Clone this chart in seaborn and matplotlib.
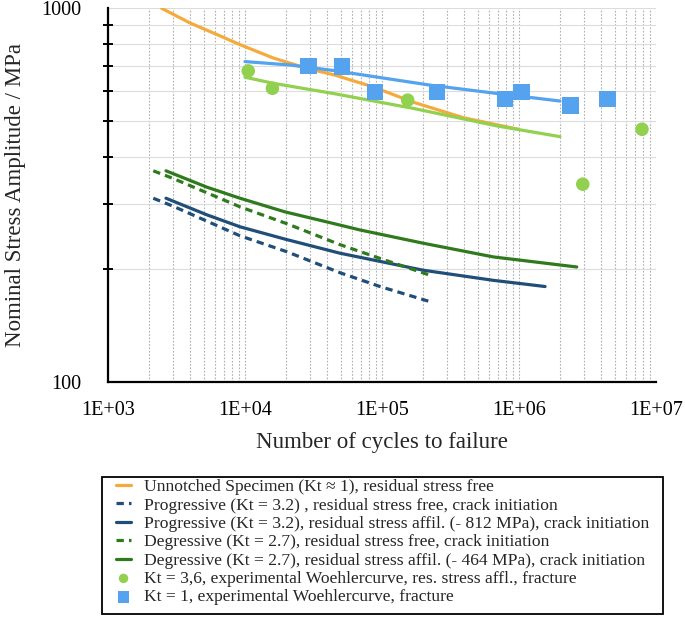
import numpy as np
import pandas as pd
import matplotlib
matplotlib.use("Agg")
import matplotlib.pyplot as plt
from matplotlib.patches import Rectangle
import seaborn as sns
from matplotlib.ticker import NullFormatter, LogLocator, FixedLocator

# ---------------- data ----------------
unnotched_n = [2466, 3968, 6209, 9194, 16090, 28180, 45000, 86400, 169000, 392000, 989000]
unnotched_s = [998, 912, 850, 798, 735, 690, 662, 615, 560, 509, 474]

kt1_fit_n = [10000, 21300, 45000, 224000, 687000, 1.99e6]
kt1_fit_s = [719, 704, 680, 622, 591, 564]

kt36_fit_n = [10000, 16090, 45000, 169000, 687000, 1.99e6]
kt36_fit_s = [653, 629, 590, 539, 484, 453]

prog_free_n = [2141, 2996, 9194, 20200, 49300, 96700, 224000]
prog_free_s = [310, 295, 246, 223, 196, 180, 164]

prog_res_n = [2650, 5253, 9194, 19600, 49300, 200000, 649000, 1.55e6]
prog_res_s = [310, 280, 260, 241, 221, 199, 187, 180]

degr_free_n = [2141, 2996, 9194, 20200, 49300, 96700, 224000]
degr_free_s = [367, 350, 294, 265, 233, 214, 193]

degr_res_n = [2650, 5253, 9194, 19600, 39500, 69100, 200000, 649000, 2.64e6]
degr_res_s = [367, 332, 310, 285, 268, 255, 235, 216, 203]

kt36_exp_n = [10560, 15850, 154000, 2.92e6, 7.9e6]
kt36_exp_s = [679, 610, 567, 338, 474]

kt1_exp_n = [29000, 51000, 89000, 253000, 790000, 1.04e6, 2.38e6, 4.41e6]
kt1_exp_s = [700, 697, 597, 597, 571, 597, 548, 571]

x_ticks = [1e3, 1e4, 1e5, 1e6, 1e7]
x_tick_labels = ["1E+03", "1E+04", "1E+05", "1E+06", "1E+07"]
y_ticks = [100, 1000]
y_tick_labels = ["100", "1000"]

labels = [
    "Unnotched Specimen (Kt \u2248 1), residual stress free",
    "Progressive (Kt = 3.2) , residual stress free, crack initiation",
    "Progressive (Kt = 3.2), residual stress affil. (- 812 MPa), crack initiation",
    "Degressive (Kt = 2.7), residual stress free, crack initiation",
    "Degressive (Kt = 2.7), residual stress affil. (- 464 MPa), crack initiation",
    "Kt = 3,6, experimental Woehlercurve, res. stress affl., fracture",
    "Kt = 1, experimental Woehlercurve, fracture",
]

# ---------------- style ----------------
sns.set_theme(style="white")
plt.rcParams["font.family"] = ["Liberation Serif", "DejaVu Serif"]

c_orange = "#F5AA3C"
c_lblue = "#55A2EE"
c_lgreen = "#92D050"
c_dblue = "#1F4E79"
c_dgreen = "#2F7A1C"

fig = plt.figure(figsize=(6.85, 6.18), dpi=100)
ax = fig.add_axes([108 / 685, 1 - 382 / 618, (656 - 108) / 685, (382 - 8) / 618])

lw = 2.3
dash = (0, (2.3, 1.6))

sns.lineplot(x=unnotched_n, y=unnotched_s, ax=ax, color=c_orange, lw=lw, label=labels[0])
sns.lineplot(x=prog_free_n, y=prog_free_s, ax=ax, color=c_dblue, lw=lw, label=labels[1])
ax.lines[-1].set_linestyle(dash)
sns.lineplot(x=prog_res_n, y=prog_res_s, ax=ax, color=c_dblue, lw=lw, label=labels[2])
sns.lineplot(x=degr_free_n, y=degr_free_s, ax=ax, color=c_dgreen, lw=lw, label=labels[3])
ax.lines[-1].set_linestyle(dash)
sns.lineplot(x=degr_res_n, y=degr_res_s, ax=ax, color=c_dgreen, lw=lw, label=labels[4])
sns.lineplot(x=kt1_fit_n, y=kt1_fit_s, ax=ax, color=c_lblue, lw=lw)
sns.lineplot(x=kt36_fit_n, y=kt36_fit_s, ax=ax, color=c_lgreen, lw=lw)
sns.scatterplot(x=kt36_exp_n, y=kt36_exp_s, ax=ax, color=c_lgreen, marker="o", s=95,
                edgecolor="none", label=labels[5], zorder=5)
sns.scatterplot(x=kt1_exp_n, y=kt1_exp_s, ax=ax, color=c_lblue, marker="s", s=140,
                edgecolor="none", label=labels[6], zorder=5)

ax.set_xscale("log")
ax.set_yscale("log")
ax.set_xlim(1e3, 1e7)
ax.set_ylim(100, 1000)

ax.xaxis.set_major_locator(FixedLocator(x_ticks))
ax.set_xticklabels(x_tick_labels)
ax.xaxis.set_minor_locator(LogLocator(base=10, subs=np.arange(2, 10)))
ax.xaxis.set_minor_formatter(NullFormatter())
ax.yaxis.set_major_locator(FixedLocator(y_ticks))
ax.set_yticklabels(y_tick_labels)
ax.yaxis.set_minor_locator(LogLocator(base=10, subs=np.arange(2, 10)))
ax.yaxis.set_minor_formatter(NullFormatter())

ax.grid(which="both", axis="y", color="#dcdcdc", ls="-", lw=0.8)
ax.grid(which="both", axis="x", color="#b0b0b0", ls=(0, (1.5, 1.5)), lw=0.8)
ax.set_axisbelow(True)

for s in ["top", "right"]:
    ax.spines[s].set_visible(False)
for s in ["left", "bottom"]:
    ax.spines[s].set_color("black")
    ax.spines[s].set_linewidth(1.6)

ax.tick_params(axis="x", which="major", direction="inout", length=11, width=1.6,
               colors="black", labelsize=14.5, pad=8)
ax.tick_params(axis="x", which="minor", length=0)
ax.tick_params(axis="y", which="major", direction="inout", length=11, width=1.6,
               colors="black", labelsize=14.5, pad=14)
ax.tick_params(axis="y", which="minor", direction="inout", length=7, width=1.4,
               colors="black", left=True)

ax.set_xlabel("Number of cycles to failure", fontsize=16.5)
ax.set_ylabel("Nominal Stress Amplitude / MPa", fontsize=16.5)
ax.xaxis.set_label_coords(0.5, (382 - 432) / 374)
ax.yaxis.set_label_coords((26 - 108) / 548, 0.5)

handles, labs = ax.get_legend_handles_labels()
if ax.legend_:
    ax.legend_.remove()
leg = fig.legend(handles, labs, loc="upper left", bbox_to_anchor=(116 / 685, 1 - 479 / 618),
                 fontsize=12.6, frameon=False,
                 handlelength=0.86, handletextpad=0.74, labelspacing=0.12,
                 borderpad=0, markerscale=0.7, borderaxespad=0)
fig.patches.append(Rectangle((102 / 685, 1 - 614 / 618), (663 - 102) / 685, (614 - 477) / 618,
                             transform=fig.transFigure, fill=False, ec="black", lw=1.3))

fig.savefig("out.png", dpi=100)
